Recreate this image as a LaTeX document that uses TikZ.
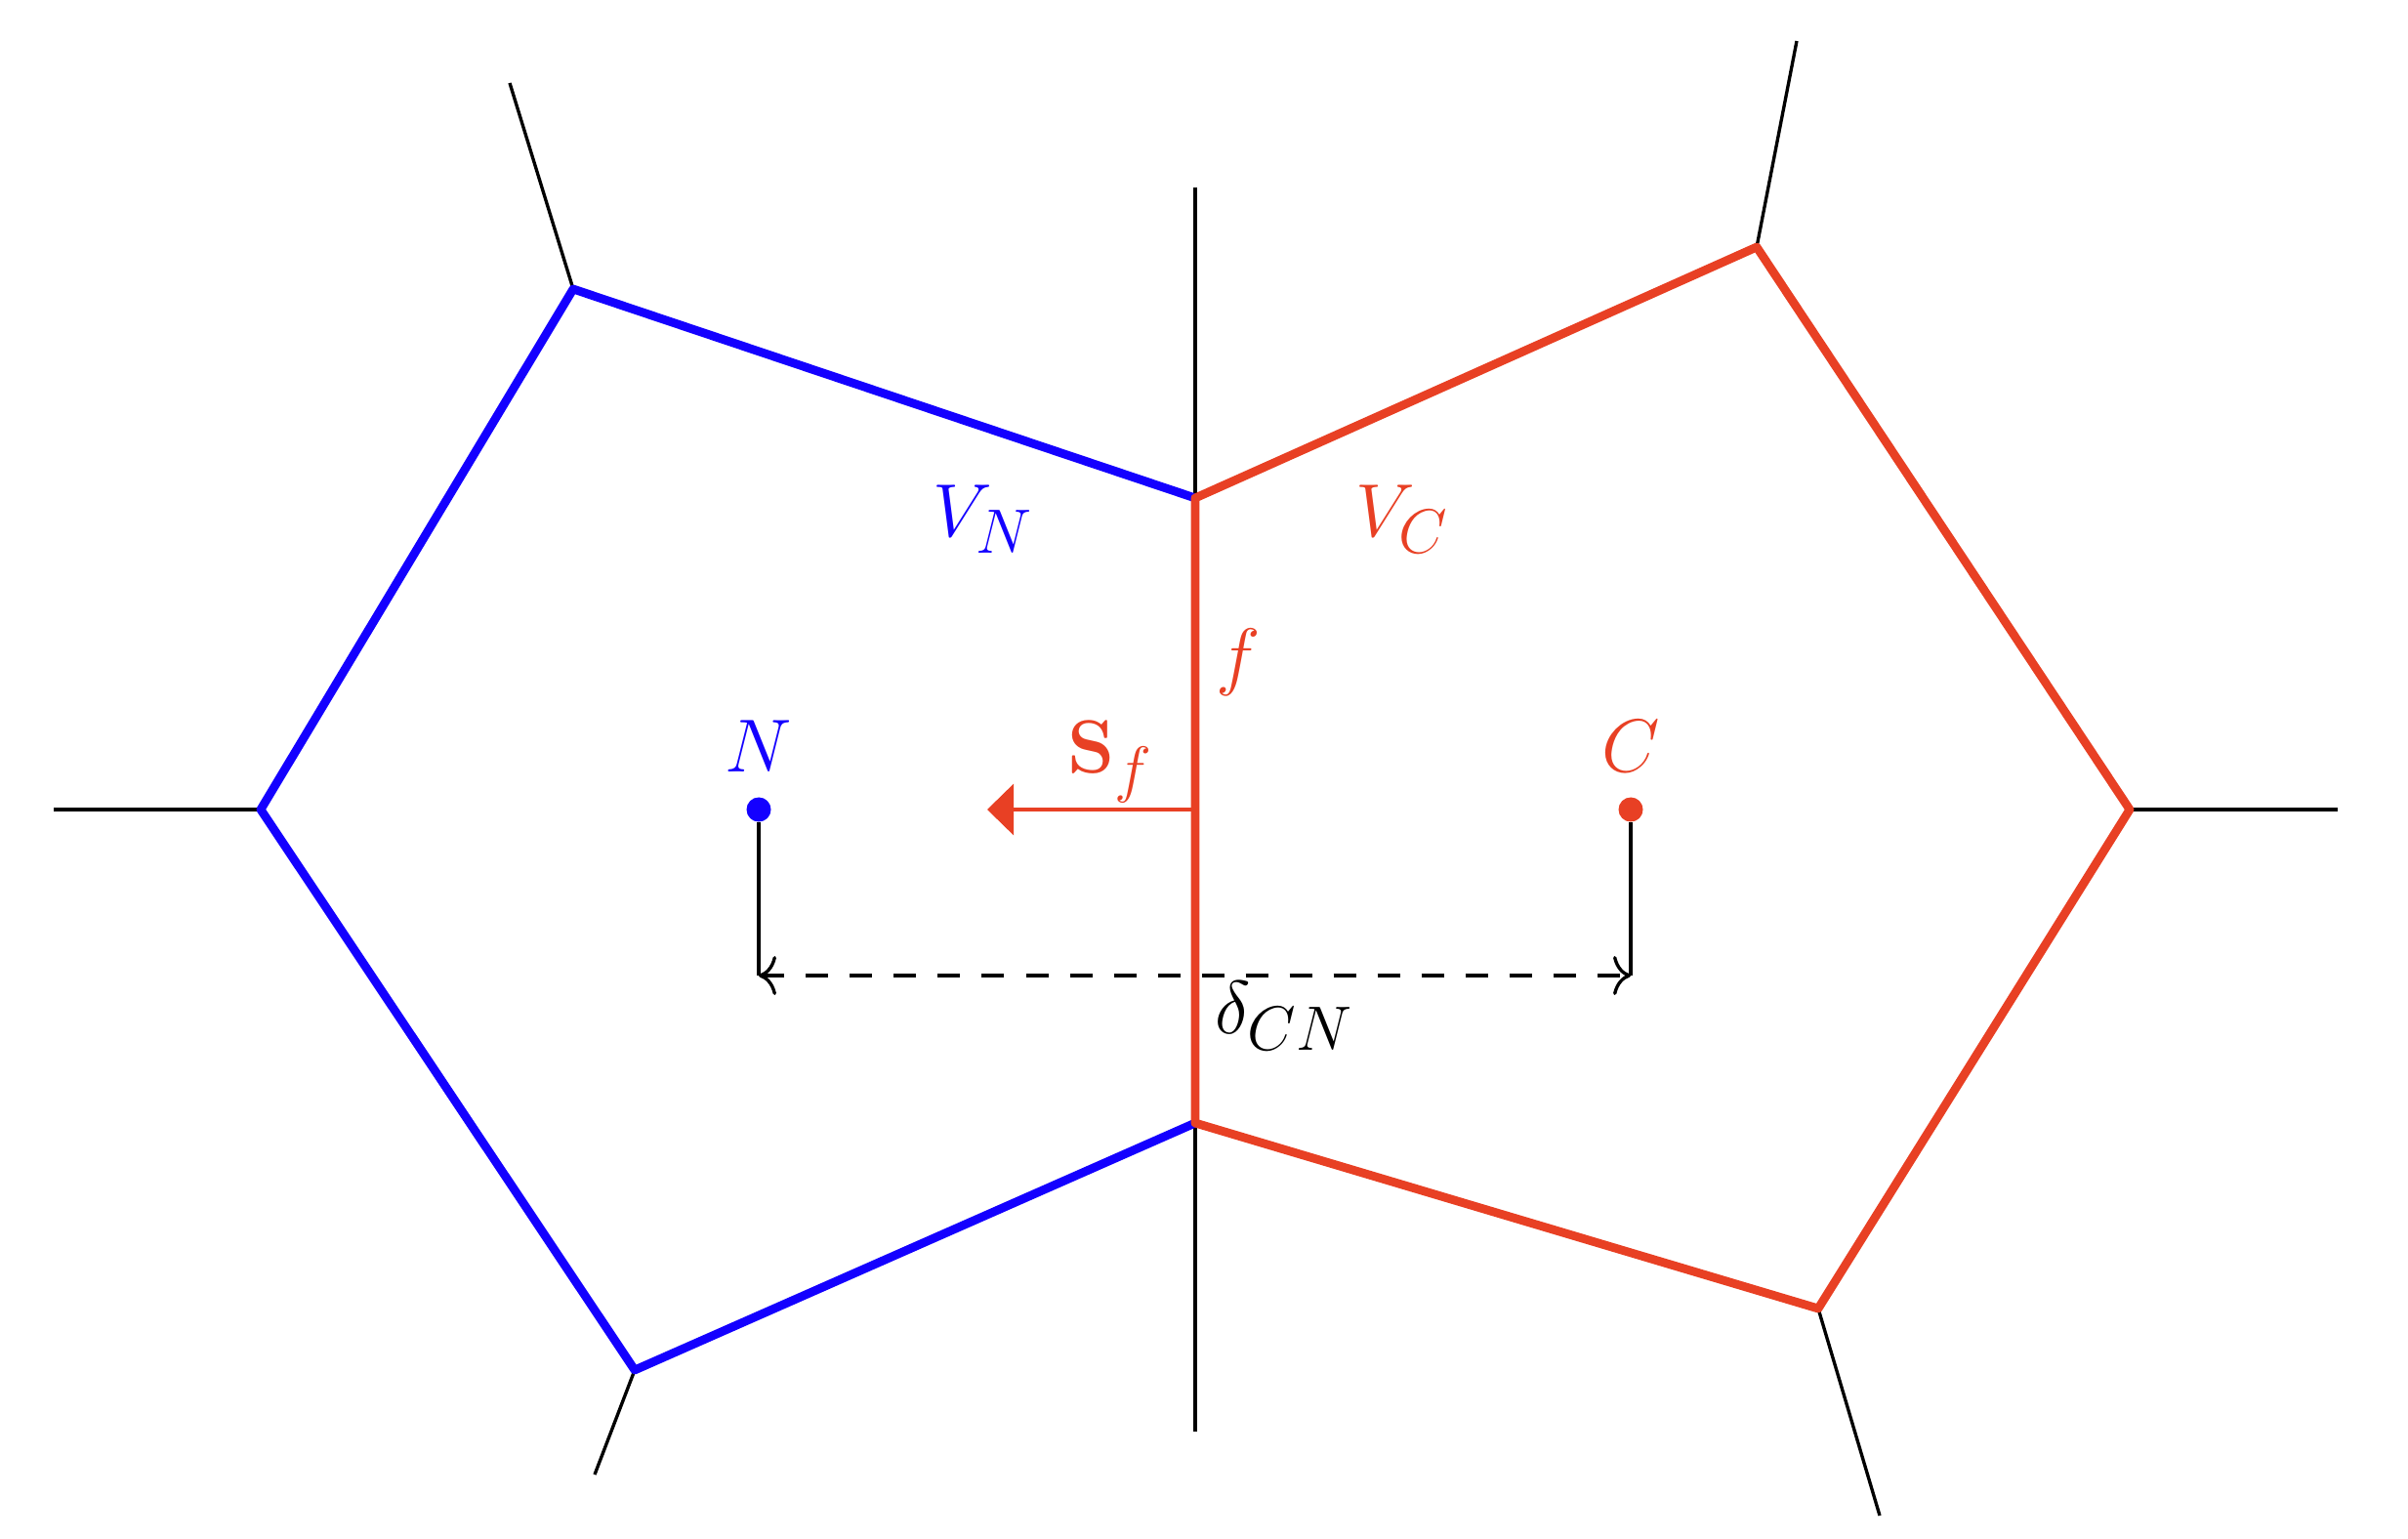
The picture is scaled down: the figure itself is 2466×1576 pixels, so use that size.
\documentclass[tikz,border=0pt]{standalone}
\usetikzlibrary{arrows.meta}
\definecolor{cred}{RGB}{232,64,36}
\definecolor{cblue}{RGB}{20,0,255}
\begin{document}
\begin{tikzpicture}[x=0.01cm,y=-0.01cm,
  thin line/.style={line width=0.95pt,black},
  cell/.style={line width=2.5pt,line join=round},
  pt/.style={circle,inner sep=0pt,minimum size=0.25cm},
  lab/.style={font=\Huge,inner sep=1pt,scale=0.88,transform shape}]
\useasboundingbox (0,0) rectangle (2466,1576);
% coordinates
\coordinate (TL) at (587,296);
\coordinate (L) at (267,829);
\coordinate (BL) at (650,1403);
\coordinate (CB) at (1224,1150);
\coordinate (CT) at (1224,510);
\coordinate (TR) at (1799,253);
\coordinate (R) at (2181,829);
\coordinate (BR) at (1862,1340);
\coordinate (eTL) at (522,85);
\coordinate (eL) at (55,829);
\coordinate (eBL) at (609,1510);
\coordinate (eTR) at (1840,42);
\coordinate (eR) at (2394,829);
\coordinate (eBR) at (1925,1552);
\coordinate (vT) at (1224,192);
\coordinate (vB) at (1224,1466);
\coordinate (F) at (1224,829);
\coordinate (tip) at (1011,829);
% spikes
\draw[thin line] (TL) -- (eTL);
\draw[thin line] (L) -- (eL);
\draw[thin line] (BL) -- (eBL);
\draw[thin line] (TR) -- (eTR);
\draw[thin line] (R) -- (eR);
\draw[thin line] (BR) -- (eBR);
\draw[thin line] (vT) -- (vB);
% cells
\draw[cell,cblue] (CT) -- (TL) -- (L) -- (BL) -- (CB);
\draw[cell,cred] (CT) -- (TR) -- (R) -- (BR) -- (CB) -- cycle;
% points
\node[pt,fill=cblue] (N) at (777,829) {};
\node[pt,fill=cred] (C) at (1670,829) {};
\node[lab,text=cblue] (Nl) at (777,764) {$N$};
\node[lab,text=cred] (Cl) at (1670,764) {$C$};
% distance
\coordinate (dN) at (777,999);
\coordinate (dC) at (1670,999);
\draw[thin line] (N) -- (dN);
\draw[thin line] (C) -- (dC);
\draw[thin line,dash pattern=on 0.23cm off 0.22cm,{To[length=0.18cm,width=0.4cm]}-{To[length=0.18cm,width=0.4cm]}] (dN) -- (dC);
\node[lab] (d) at (1315,1040) {$\delta_{CN}$};
% face normal
\draw[cred,line width=1pt,-{Triangle[length=0.27cm,width=0.52cm]}] (F) -- (tip);
\node[lab,text=cred] (Sf) at (1137,780) {$\mathbf{S}_f$};
\node[lab,text=cred] (f) at (1268,678) {$f$};
\node[lab,text=cblue] (VN) at (1007,532) {$V_N$};
\node[lab,text=cred] (VC) at (1436,532) {$V_C$};
\end{tikzpicture}
\end{document}
